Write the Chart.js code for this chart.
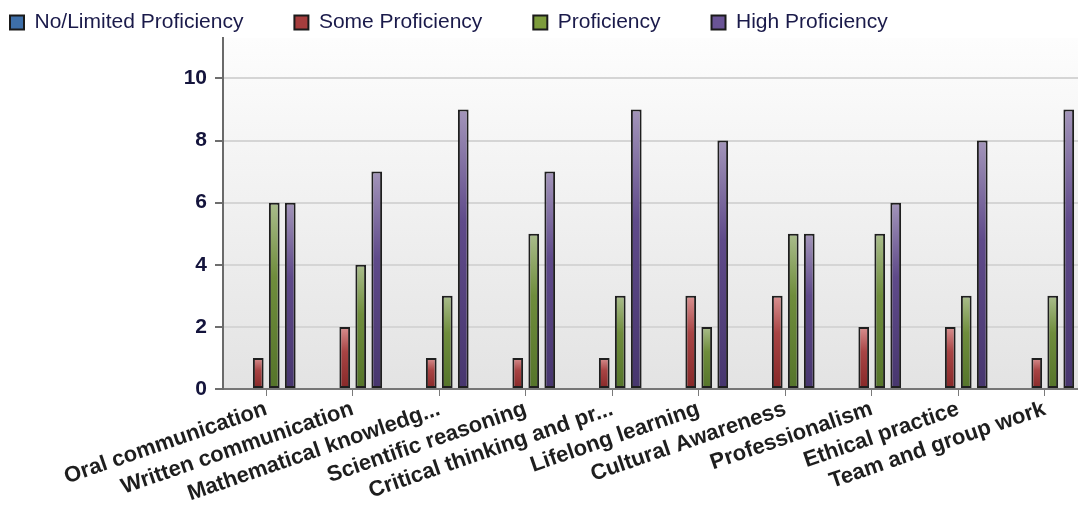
<!DOCTYPE html>
<html>
<head>
<meta charset="utf-8">
<title>Proficiency by outcome</title>
<script src="https://cdn.jsdelivr.net/npm/chart.js@4/dist/chart.umd.min.js"></script>
<style>
  html, body { margin: 0; padding: 0; background: #ffffff; overflow: hidden; width: 1078px; height: 510px; }
  #wrap { position: relative; width: 1088px; height: 510px; }
  canvas { display: block; }
</style>
</head>
<body>
<div id="wrap"><canvas id="chart" width="1088" height="510"></canvas></div>
<script>
// ---- data ----
const categories = [
  'Oral communication',
  'Written communication',
  'Mathematical knowledg...',
  'Scientific reasoning',
  'Critical thinking and pr...',
  'Lifelong learning',
  'Cultural Awareness',
  'Professionalism',
  'Ethical practice',
  'Team and group work'
];
const seriesNames = ['No/Limited Proficiency', 'Some Proficiency', 'Proficiency', 'High Proficiency'];
const noLimitedProficiency = [0, 0, 0, 0, 0, 0, 0, 0, 0, 0];
const someProficiency      = [1, 2, 1, 1, 1, 3, 3, 2, 2, 1];
const proficiency          = [6, 4, 3, 5, 3, 2, 5, 5, 3, 3];
const highProficiency      = [6, 7, 9, 7, 9, 8, 5, 6, 8, 9];
const yTickValues = [0, 2, 4, 6, 8, 10];

// ---- styling ----
const FONT = "'Liberation Sans', Arial, sans-serif";
const palette = [
  { key: '#3e6fa9', light: '#8fb0d8', mid: '#4a7ab4', dark: '#2d5a92' },
  { key: '#a63d3d', light: '#d99191', mid: '#a84444', dark: '#862828' },
  { key: '#7d9c3c', light: '#aabd8c', mid: '#6f8d3c', dark: '#55742a' },
  { key: '#6a5496', light: '#a395ba', mid: '#5f4a8a', dark: '#47366e' }
];

// each bar shades from a light top to a deep base, measured through the y scale
function barFill(p) {
  return (ctx) => {
    const chart = ctx.chart;
    if (!chart.chartArea || ctx.type !== 'data') return p.mid;
    const y = chart.scales.y;
    const top = y.getPixelForValue(ctx.raw);
    const bottom = y.getPixelForValue(0);
    if (!(bottom - top > 1)) return p.mid;
    const g = chart.ctx.createLinearGradient(0, top, 0, bottom);
    g.addColorStop(0, p.light);
    g.addColorStop(0.4, p.mid);
    g.addColorStop(1, p.dark);
    return g;
  };
}

const seriesValues = [noLimitedProficiency, someProficiency, proficiency, highProficiency];
const datasets = seriesNames.map((name, i) => ({
  label: name,
  data: seriesValues[i],
  backgroundColor: barFill(palette[i]),
  borderColor: '#1f1f1f',
  borderWidth: 2,
  borderSkipped: false,
  categoryPercentage: 0.74,
  barPercentage: 0.67
}));

// plot area wash: near white at the top, light grey at the base
const plotBackground = {
  id: 'plotBackground',
  beforeDraw(chart) {
    const a = chart.chartArea;
    if (!a) return;
    const c = chart.ctx;
    const g = c.createLinearGradient(0, a.top, 0, a.bottom);
    g.addColorStop(0, '#fdfdfd');
    g.addColorStop(1, '#e3e3e3');
    c.save();
    c.fillStyle = g;
    c.fillRect(a.left, a.top, a.right - a.left, a.bottom - a.top);
    c.restore();
  }
};

// legend row: wide gaps between items, compact band above the plot
const LEGEND_GAP = 51;
const LEGEND_INSET_X = 10;
const LEGEND_INSET_Y = 12;
const LEGEND_BAND = 38;
const legendLayout = {
  id: 'legendLayout',
  afterInit(chart) {
    const lg = chart.legend;
    if (!lg) return;
    const fit = lg.fit.bind(lg);
    lg.fit = function () { fit(); this.height = LEGEND_BAND; };
    const drawItems = lg._draw.bind(lg);
    lg.draw = function () {
      if (!this.options.display) return;
      const c = this.ctx;
      c.save();
      c.translate(LEGEND_INSET_X - LEGEND_GAP, LEGEND_INSET_Y - LEGEND_GAP);
      drawItems();
      c.restore();
    };
  }
};

new Chart(document.getElementById('chart'), {
  type: 'bar',
  data: { labels: categories, datasets },
  plugins: [plotBackground, legendLayout],
  options: {
    responsive: false,
    animation: false,
    events: [],
    devicePixelRatio: 1,
    layout: { padding: 0 },
    plugins: {
      tooltip: { enabled: false },
      title: { display: false },
      legend: {
        display: true,
        position: 'top',
        align: 'start',
        labels: {
          boxWidth: 14,
          boxHeight: 14,
          padding: LEGEND_GAP,
          color: '#1a1a4a',
          font: { family: FONT, size: 21 },
          generateLabels: (chart) => chart.data.datasets.map((ds, i) => ({
            text: ds.label,
            fillStyle: palette[i].key,
            strokeStyle: '#1a1a1a',
            lineWidth: 2,
            fontColor: '#1a1a4a',
            datasetIndex: i,
            hidden: false
          }))
        }
      }
    },
    scales: {
      x: {
        offset: true,
        afterFit: (s) => { s.height = 121; },
        grid: {
          display: true,
          offset: false,
          drawOnChartArea: false,
          drawTicks: true,
          tickLength: 7,
          tickColor: '#7a7a7a',
          tickWidth: 1
        },
        border: { display: true, color: '#767676', width: 2 },
        ticks: {
          autoSkip: false,
          minRotation: 19,
          maxRotation: 19,
          padding: 0,
          color: '#1e1e1e',
          font: { family: FONT, size: 22, weight: 'bold' }
        }
      },
      y: {
        min: 0,
        max: 11.3,
        afterFit: (s) => { s.width = 223; },
        afterBuildTicks: (s) => { s.ticks = yTickValues.map((v) => ({ value: v })); },
        grid: {
          color: (ctx) => (ctx.tick && ctx.tick.value === 0 ? 'rgba(0,0,0,0)' : '#d5d5d5'),
          lineWidth: 2,
          tickLength: 8,
          tickColor: '#6e6e6e',
          tickWidth: 2
        },
        border: { display: true, color: '#6a6a6a', width: 2 },
        ticks: {
          padding: 8,
          color: '#14143c',
          font: { family: FONT, size: 21, weight: 'bold' }
        }
      }
    }
  }
});
</script>
</body>
</html>
